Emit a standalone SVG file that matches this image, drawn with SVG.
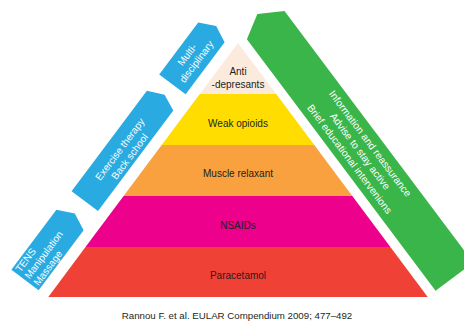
<svg xmlns="http://www.w3.org/2000/svg" width="464" height="321" viewBox="0 0 464 321">
<style>
.lbl{font-family:"Liberation Sans",Arial,sans-serif;font-size:10px;fill:#231f20;text-anchor:middle}
.wt{font-family:"Liberation Sans",Arial,sans-serif;font-size:10px;fill:#ffffff}
.blue{fill:#29abe2}
.green{fill:#3ab54a}
.cite{font-family:"Liberation Sans",Arial,sans-serif;font-size:9.7px;fill:#231f20;text-anchor:middle}
</style>
<rect width="464" height="321" fill="#ffffff"/>
<g id="pyramid">
  <g id="level-antidepressants">
    <polygon points="238,43 276.2,94 199.8,94" fill="#fcebdd"/>
    <text class="lbl" x="238" y="75">Anti</text>
    <text class="lbl" x="238" y="87.5">-depresants</text>
  </g>
  <g id="level-weak-opioids">
    <polygon points="199.8,94 276.2,94 314.3,145 161.7,145" fill="#ffdd00"/>
    <text class="lbl" x="238" y="126.5">Weak opioids</text>
  </g>
  <g id="level-muscle-relaxant">
    <polygon points="161.7,145 314.3,145 352.3,196 123.6,196" fill="#f9a03f"/>
    <text class="lbl" x="238" y="177">Muscle relaxant</text>
  </g>
  <g id="level-nsaids">
    <polygon points="123.6,196 352.3,196 390.4,247 85.5,247" fill="#ec008c"/>
    <text class="lbl" x="238" y="229">NSAIDs</text>
  </g>
  <g id="level-paracetamol">
    <polygon points="85.5,247 390.4,247 427.7,297 48.3,297" fill="#ef4136"/>
    <text class="lbl" x="238" y="279">Paracetamol</text>
  </g>
</g>
<g id="multidisciplinary" transform="matrix(0.6,-0.8,0.8,0.6,0,0)">
  <polygon class="blue" points="36,172 101,172 109,188.5 101,205 36,205"/>
  <text class="wt" x="68.5" y="186" text-anchor="middle">Multi-</text>
  <text class="wt" x="68.5" y="197.7" text-anchor="middle">disciplinary</text>
</g>
<g id="exercise" transform="matrix(0.6,-0.8,0.8,0.6,0,0)">
  <polygon class="blue" points="-110,172 15.5,172 23,188.5 15.5,205 -110,205"/>
  <text class="wt" x="-47.5" y="189" text-anchor="middle">Exercise therapy</text>
  <text class="wt" x="-47.5" y="201" text-anchor="middle">Back school</text>
</g>
<g id="tens" transform="matrix(0.6,-0.8,0.8,0.6,0,0)">
  <polygon class="blue" points="-209,171 -134,171 -126,188 -134,205 -209,205"/>
  <text class="wt" x="-206" y="180">TENS</text>
  <text class="wt" x="-206" y="191.3">Manipulation</text>
  <text class="wt" x="-206" y="202.6">Massage</text>
</g>
<g id="information" transform="rotate(53.13)">
  <polygon class="green" points="165.6,-197.5 179.5,-221 494,-221 494,-174 179.5,-174"/>
  <text class="wt" x="337" y="-206.5" text-anchor="middle" style="font-size:10.2px">Information and reassurance</text>
  <text class="wt" x="337" y="-193.8" text-anchor="middle" style="font-size:10.2px">Advise to stay active</text>
  <text class="wt" x="337" y="-180.8" text-anchor="middle" style="font-size:10.2px">Brief educational intervenions</text>
</g>
<g id="connectors"/>
<text class="cite" x="237" y="319">Rannou F. et al. EULAR Compendium 2009; 477–492</text>
</svg>
